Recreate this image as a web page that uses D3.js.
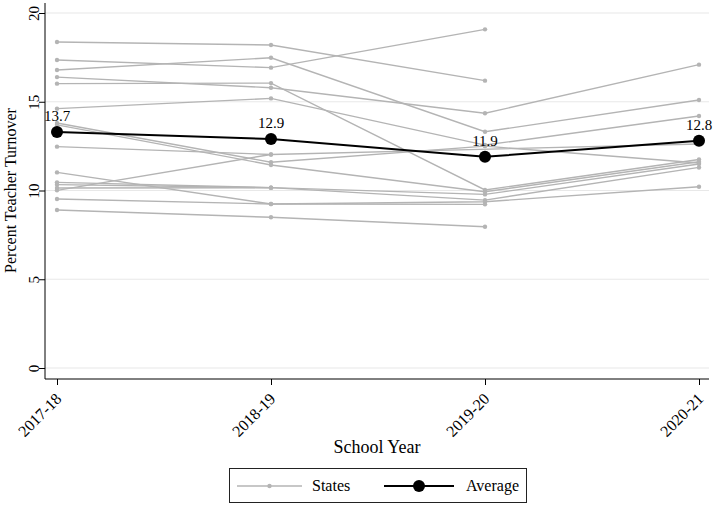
<!DOCTYPE html>
<html>
<head>
<meta charset="utf-8">
<script src="https://cdn.jsdelivr.net/npm/d3@7"></script>
<style>
  html, body { margin: 0; padding: 0; background: #fff; }
  svg { display: block; }
  text { font-family: "Liberation Serif", "Times New Roman", Times, serif; fill: #000; }
</style>
</head>
<body>
<svg id="chart" width="713" height="505"></svg>
<script>
// ---- data ----
const years = ["2017-18", "2018-19", "2019-20", "2020-21"];
const stateA = [18.37, 18.2, 16.19, null];
const stateB = [17.35, 16.92, 19.08, null];
const stateC = [16.79, 17.48, 13.31, 15.1];
const stateD = [16.39, 15.79, 14.35, 17.09];
const stateE = [16.02, 16.05, 10.03, 11.75];
const stateF = [14.61, 15.19, 12.56, 14.2];
const stateG = [13.8, 11.59, 12.5, 11.55];
const stateH = [13.7, 11.44, 9.93, 11.62];
const stateI = [12.47, 12.03, null, 12.62];
const stateJ = [11.02, 9.24, 9.37, 10.21];
const stateK = [10.46, 10.16, 9.78, 11.49];
const stateL = [10.33, 10.16, null, null];
const stateM = [10.14, 10.16, 9.46, 11.3];
const stateN = [10.01, 12.03, null, null];
const stateO = [9.52, 9.24, 9.22, null];
const stateP = [8.9, 8.49, 7.96, null];
const states = [stateA, stateB, stateC, stateD, stateE, stateF, stateG, stateH,
                stateI, stateJ, stateK, stateL, stateM, stateN, stateO, stateP];
const avgValues = [13.3, 12.9, 11.9, 12.8];
const avgLabels = ["13.7", "12.9", "11.9", "12.8"];
const yTicks = [0, 5, 10, 15, 20];
const legendLabels = ["States", "Average"];

// ---- layout ----
const svg = d3.select("#chart");
const axisX = 45, axisY = 379, rightEdge = 709, topEdge = 3;
const x = d3.scalePoint().domain(years).range([57, 699]);
const y = d3.scaleLinear().domain([0, 20]).range([368, 13]);
const grey = "#b4b4b4";
const serif = '"Liberation Serif", "Times New Roman", serif';

// gridlines
svg.append("g").selectAll("line").data(yTicks).join("line")
  .attr("x1", axisX).attr("x2", rightEdge)
  .attr("y1", d => y(d)).attr("y2", d => y(d))
  .attr("stroke", "#e8e8e8").attr("stroke-width", 1.2);

// y axis
const yAxis = d3.axisLeft(y).tickValues(yTicks).tickSize(6).tickFormat(d3.format("d"));
const gy = svg.append("g").attr("transform", `translate(${axisX},0)`).call(yAxis);
gy.select(".domain").remove();
gy.selectAll(".tick line").attr("stroke", "#000");
gy.selectAll(".tick text")
  .attr("transform", "rotate(-90)")
  .attr("x", 0).attr("y", -11)
  .attr("text-anchor", "middle")
  .style("font-family", serif)
  .style("font-size", "15px");
svg.append("line").attr("x1", axisX).attr("x2", axisX).attr("y1", topEdge).attr("y2", axisY)
  .attr("stroke", "#000").attr("stroke-width", 1);

// x axis
const xAxis = d3.axisBottom(x).tickSize(6);
const gx = svg.append("g").attr("transform", `translate(0,${axisY})`).call(xAxis);
gx.select(".domain").remove();
gx.selectAll(".tick line").attr("stroke", "#000");
gx.selectAll(".tick text")
  .attr("transform", "translate(1,17) rotate(-45)")
  .attr("x", 0).attr("y", 0).attr("dy", "0.35em")
  .attr("text-anchor", "end")
  .style("font-family", serif)
  .style("font-size", "16px");
svg.append("line").attr("x1", axisX).attr("x2", rightEdge).attr("y1", axisY).attr("y2", axisY)
  .attr("stroke", "#000").attr("stroke-width", 1);

// axis titles
svg.append("text").attr("transform", `translate(16,${(y(0) + y(20)) / 2}) rotate(-90)`)
  .attr("text-anchor", "middle").style("font-size", "16px").text("Percent Teacher Turnover");
svg.append("text").attr("x", (axisX + rightEdge) / 2).attr("y", 453)
  .attr("text-anchor", "middle").style("font-size", "18px").text("School Year");

// state lines
const line = d3.line().x(d => x(d.year)).y(d => y(d.v));
states.forEach(s => {
  const pts = years.map((yr, i) => ({ year: yr, v: s[i] })).filter(d => d.v !== null);
  svg.append("path").datum(pts).attr("d", line)
    .attr("fill", "none").attr("stroke", grey).attr("stroke-width", 1.4);
  svg.append("g").selectAll("circle").data(pts).join("circle")
    .attr("cx", d => x(d.year)).attr("cy", d => y(d.v)).attr("r", 2.2).attr("fill", grey);
});

// average
const avgPts = years.map((yr, i) => ({ year: yr, v: avgValues[i], label: avgLabels[i] }));
svg.append("path").datum(avgPts).attr("d", line)
  .attr("fill", "none").attr("stroke", "#000").attr("stroke-width", 2);
svg.append("g").selectAll("circle").data(avgPts).join("circle")
  .attr("cx", d => x(d.year)).attr("cy", d => y(d.v)).attr("r", 6).attr("fill", "#000");
svg.append("g").selectAll("text").data(avgPts).join("text")
  .attr("x", d => x(d.year)).attr("y", d => y(d.v) - 11)
  .attr("text-anchor", "middle").style("font-size", "15px").text(d => d.label);

// legend
const lg = svg.append("g");
lg.append("rect").attr("x", 229.5).attr("y", 468.5).attr("width", 297).attr("height", 34)
  .attr("fill", "#fff").attr("stroke", "#222").attr("stroke-width", 1);
lg.append("line").attr("x1", 237).attr("x2", 302).attr("y1", 486).attr("y2", 486)
  .attr("stroke", grey).attr("stroke-width", 1.4);
lg.append("circle").attr("cx", 269.5).attr("cy", 486).attr("r", 2.2).attr("fill", grey);
lg.append("text").attr("x", 312).attr("y", 491).style("font-size", "16px").text(legendLabels[0]);
lg.append("line").attr("x1", 384).attr("x2", 454).attr("y1", 486).attr("y2", 486)
  .attr("stroke", "#000").attr("stroke-width", 2);
lg.append("circle").attr("cx", 419).attr("cy", 486).attr("r", 6).attr("fill", "#000");
lg.append("text").attr("x", 466).attr("y", 491).style("font-size", "16px").text(legendLabels[1]);
</script>
</body>
</html>
